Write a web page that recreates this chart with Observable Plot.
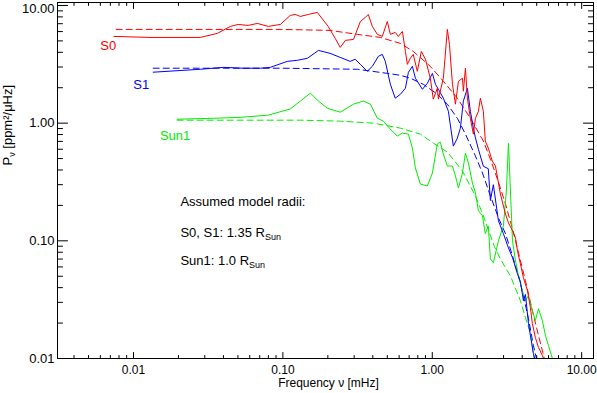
<!DOCTYPE html>
<html><head><meta charset="utf-8">
<script src="https://cdn.jsdelivr.net/npm/d3@7"></script>
<script src="https://cdn.jsdelivr.net/npm/@observablehq/plot@0.6"></script>
<style>body{margin:0;background:#fff} svg{display:block}</style>
</head><body><div id="chart"></div>
<script>
// ---- data (frequency in mHz, power in ppm^2/uHz) ----
const s0Freq = [0.0074,0.0129,0.028,0.0364,0.0445,0.0502,0.0586,0.0675,0.0798,0.0962,0.112,0.121,0.131,0.148,0.170,0.201,0.224,0.242,0.262,0.297,0.330,0.356,0.373,0.397,0.429,0.463,0.500,0.524,0.565,0.593,0.631,0.661,0.681,0.713,0.746,0.794,0.845,0.900,0.970,1.016,1.081,1.099,1.186,1.262,1.303,1.365,1.429,1.496,1.592,1.615,1.667,1.718,1.799,1.884,1.945,2.036,2.099,2.198,2.265,2.371,2.523,2.648,2.858,3.090,3.236,3.443,3.606,3.715,3.890,4.074,4.335,4.539,4.677,4.898,5.140,5.458,5.623];
const s0Power = [5.46,5.35,5.35,5.79,6.64,6.90,6.77,7.04,6.64,6.90,8.23,8.39,8.07,8.39,8.73,6.64,5.25,4.40,5.05,5.15,7.31,7.91,8.39,6.64,5.68,5.46,7.31,5.68,5.90,5.46,6.02,4.07,3.16,3.56,3.84,2.76,4.07,3.49,2.41,1.60,1.98,1.60,2.41,6.26,4.67,2.14,1.45,2.27,2.41,1.87,2.93,1.63,1.10,0.807,1.10,1.26,1.63,1.26,0.704,0.614,0.476,0.432,0.250,0.169,0.142,0.122,0.106,0.0823,0.0638,0.0486,0.0377,0.0270,0.0198,0.0151,0.0124,0.0106,0.0096];

const s1Freq = [0.01355,0.028,0.0399,0.0543,0.0707,0.0824,0.107,0.125,0.146,0.173,0.207,0.242,0.282,0.305,0.330,0.367,0.397,0.436,0.463,0.485,0.524,0.565,0.612,0.661,0.692,0.736,0.771,0.859,0.927,1.002,1.050,1.099,1.186,1.282,1.384,1.472,1.542,1.615,1.718,1.799,1.884,1.945,2.036,2.198,2.371,2.449,2.564,2.773,2.992,3.236,3.443,3.715,3.890,4.074,4.204,4.406,4.75,4.898];
const s1Power = [2.71,2.87,2.98,2.93,2.93,2.98,3.35,3.42,3.56,4.15,3.92,3.62,3.35,3.49,3.16,2.76,3.04,3.70,3.84,3.35,2.14,1.63,1.76,1.98,2.70,3.04,2.41,1.94,2.18,2.65,2.14,1.94,1.63,1.26,0.638,0.746,0.907,1.54,1.98,1.26,0.907,0.75,0.60,0.43,0.41,0.22,0.30,0.148,0.115,0.087,0.072,0.0525,0.045,0.031,0.035,0.0198,0.011,0.0096];

const sun1Freq = [0.0196,0.0342,0.0519,0.0798,0.112,0.131,0.153,0.170,0.198,0.242,0.297,0.346,0.385,0.429,0.471,0.524,0.583,0.631,0.692,0.736,0.771,0.832,0.927,1.002,1.081,1.132,1.186,1.262,1.365,1.429,1.496,1.592,1.667,1.745,1.857,1.945,2.036,2.168,2.265,2.371,2.449,2.564,2.773,2.992,3.133,3.236,3.336,3.443,3.606,3.776,4.011,4.204,4.406,4.677,4.898,5.140,5.458,5.72,5.99,6.37];
const sun1Power = [1.08,1.10,1.12,1.17,1.32,1.54,1.80,1.57,1.34,1.24,1.45,1.54,1.45,1.10,1.04,0.889,0.776,0.823,0.807,0.614,0.416,0.304,0.292,0.377,0.664,0.690,0.546,0.432,0.432,0.356,0.281,0.377,0.557,0.458,0.310,0.255,0.180,0.163,0.115,0.134,0.0704,0.0651,0.100,0.134,0.265,0.677,0.265,0.100,0.0677,0.0505,0.0377,0.0310,0.0342,0.0255,0.0210,0.0265,0.0210,0.0157,0.0129,0.0100];

const s0ModelFreq = [0.00766,0.0991,0.207,0.315,0.449,0.612,0.746,0.970,1.186,1.472,1.799,2.198,2.449,2.729,3.090,3.443,3.776,4.204,4.677,5.140,5.623];
const s0ModelPower = [6.26,6.26,6.14,5.68,5.35,4.76,4.07,3.04,2.27,1.63,1.10,0.704,0.495,0.335,0.206,0.126,0.0791,0.0458,0.0255,0.0157,0.0100];

const s1ModelFreq = [0.01355,0.0991,0.315,0.500,0.612,0.713,0.871,1.081,1.262,1.472,1.667,1.945,2.168,2.449,2.773,3.090,3.443,3.776,4.074,4.406,4.75,4.98];
const s1ModelPower = [2.93,2.93,2.87,2.65,2.55,2.41,2.14,1.76,1.45,1.10,0.807,0.525,0.377,0.241,0.157,0.115,0.0746,0.0505,0.0342,0.0218,0.0129,0.0100];

const sun1ModelFreq = [0.0196,0.131,0.242,0.403,0.612,0.832,1.016,1.262,1.592,1.945,2.17,2.37,2.6,2.86,3.34,3.89,4.2,4.54,4.8];
const sun1ModelPower = [1.06,1.06,1.04,1.00,0.907,0.807,0.677,0.568,0.392,0.24,0.17,0.125,0.09,0.07,0.05,0.031,0.0223,0.0163,0.0100];

// ---- labels & ticks ----
const seriesNames = ["S0", "S1", "Sun1"];
const seriesColors = ["#ff0000", "#0000ff", "#00ee00"];
const nameFreq = [0.00677, 0.01126, 0.0190];
const namePower = [4.58, 2.10, 0.776];
const noteLines = ["Assumed model radii:", "S0, S1: 1.35 R_Sun", "Sun1: 1.0 R_Sun"];
const noteFreq = [0.0206, 0.0206, 0.0206];
const notePower = [0.214, 0.117, 0.0677];
const xTitle = "Frequency \u03bd [mHz]";
const yTitle = "P_\u03bd [ppm\u00b2/\u03bcHz]";
const majorTicks = [0.01, 0.1, 1, 10];
const yLowLabels = [0.01, 0.1, 1];
const yTopLabel = [10];
const xMinorTicks = [0.004,0.005,0.006,0.007,0.008,0.009,0.02,0.03,0.04,0.05,0.06,0.07,0.08,0.09,0.2,0.3,0.4,0.5,0.6,0.7,0.8,0.9,2,3,4,5,6,7,8,9];
const yMinorTicks = [0.02,0.03,0.04,0.05,0.06,0.07,0.08,0.09,0.2,0.3,0.4,0.5,0.6,0.7,0.8,0.9,2,3,4,5,6,7,8,9];

const pts = (f, p) => f.map((v, i) => ({f: v, p: p[i]}));
const fmt = d3.format(".2f");
const dash = "6,4";

const names = seriesNames.map((n, i) => ({n, f: nameFreq[i], p: namePower[i], c: seriesColors[i]}));
const notes = noteLines.map((t, i) => ({t, f: noteFreq[i], p: notePower[i]}));

// inward tick shapes for the vector mark
const tickUp = {draw(c, l) { c.moveTo(0, 0); c.lineTo(0, -l); }};
const tickDown = {draw(c, l) { c.moveTo(0, 0); c.lineTo(0, l); }};
const tickRight = {draw(c, l) { c.moveTo(0, 0); c.lineTo(l, 0); }};
const tickLeft = {draw(c, l) { c.moveTo(0, 0); c.lineTo(-l, 0); }};
const tk = (shape, length, anchor) => ({frameAnchor: anchor, length, shape, anchor: "start", stroke: "#000", strokeWidth: 1});

const svg = Plot.plot({
  width: 597, height: 393,
  marginLeft: 57, marginRight: 4, marginTop: 2, marginBottom: 35,
  style: {fontFamily: "'Liberation Sans', Arial, Helvetica, sans-serif", fontSize: "13px", color: "#000", background: "#fff"},
  x: {type: "log", domain: [0.0031, 12]},
  y: {type: "log", domain: [0.01, 10.6]},
  marks: [
    Plot.line(pts(s0ModelFreq, s0ModelPower), {x: "f", y: "p", stroke: seriesColors[0], strokeWidth: 1, strokeDasharray: dash, clip: true}),
    Plot.line(pts(s1ModelFreq, s1ModelPower), {x: "f", y: "p", stroke: seriesColors[1], strokeWidth: 1, strokeDasharray: dash, clip: true}),
    Plot.line(pts(sun1ModelFreq, sun1ModelPower), {x: "f", y: "p", stroke: seriesColors[2], strokeWidth: 1, strokeDasharray: dash, clip: true}),
    Plot.line(pts(sun1Freq, sun1Power), {x: "f", y: "p", stroke: seriesColors[2], strokeWidth: 1, clip: true}),
    Plot.line(pts(s1Freq, s1Power), {x: "f", y: "p", stroke: seriesColors[1], strokeWidth: 1, clip: true}),
    Plot.line(pts(s0Freq, s0Power), {x: "f", y: "p", stroke: seriesColors[0], strokeWidth: 1, clip: true}),
    Plot.frame({stroke: "#000"}),
    // inward ticks on all four sides
    Plot.vectorX(majorTicks, tk(tickUp, 6, "bottom")),
    Plot.vectorX(xMinorTicks, tk(tickUp, 3, "bottom")),
    Plot.vectorX(majorTicks, tk(tickDown, 6, "top")),
    Plot.vectorX(xMinorTicks, tk(tickDown, 3, "top")),
    Plot.vectorY(majorTicks, tk(tickRight, 10, "left")),
    Plot.vectorY(yMinorTicks, tk(tickRight, 5, "left")),
    Plot.vectorY(majorTicks, tk(tickLeft, 10, "right")),
    Plot.vectorY(yMinorTicks, tk(tickLeft, 5, "right")),
    // tick labels
    Plot.axisX(majorTicks, {anchor: "bottom", tickSize: 0, tickPadding: 7, tickFormat: fmt, label: null, fontSize: 12}),
    Plot.axisY(yLowLabels, {anchor: "left", tickSize: 0, tickPadding: 3, tickFormat: fmt, label: null}),
    Plot.axisY(yTopLabel, {anchor: "left", tickSize: 0, tickPadding: 3, tickFormat: fmt, label: null, dy: 3}),
    Plot.text(names, {x: "f", y: "p", text: "n", fill: "c", fontSize: 13}),
    Plot.text(notes, {x: "f", y: "p", text: "t", fill: "#000", textAnchor: "start", fontSize: 13}),
    Plot.text([xTitle], {frameAnchor: "bottom", dy: 28, dx: 3, fontSize: 12, fill: "#000"}),
    Plot.text([yTitle], {frameAnchor: "left", rotate: -90, dx: -50, dy: -15, fontSize: 13, fill: "#000"})
  ]
});

// subscripts (e.g. R_Sun, P_nu) as real tspans
d3.select(svg).selectAll("text").each(function () {
  const t = this.textContent;
  const m = t.match(/^(.*?)_(\S+)(.*)$/);
  if (!m) return;
  const sel = d3.select(this);
  sel.text(null);
  sel.append("tspan").text(m[1]);
  sel.append("tspan").attr("font-size", "9px").attr("dy", "3").text(m[2]);
  if (m[3]) sel.append("tspan").attr("dy", "-3").text(m[3]);
});

document.getElementById("chart").appendChild(svg);
</script>
</body></html>
